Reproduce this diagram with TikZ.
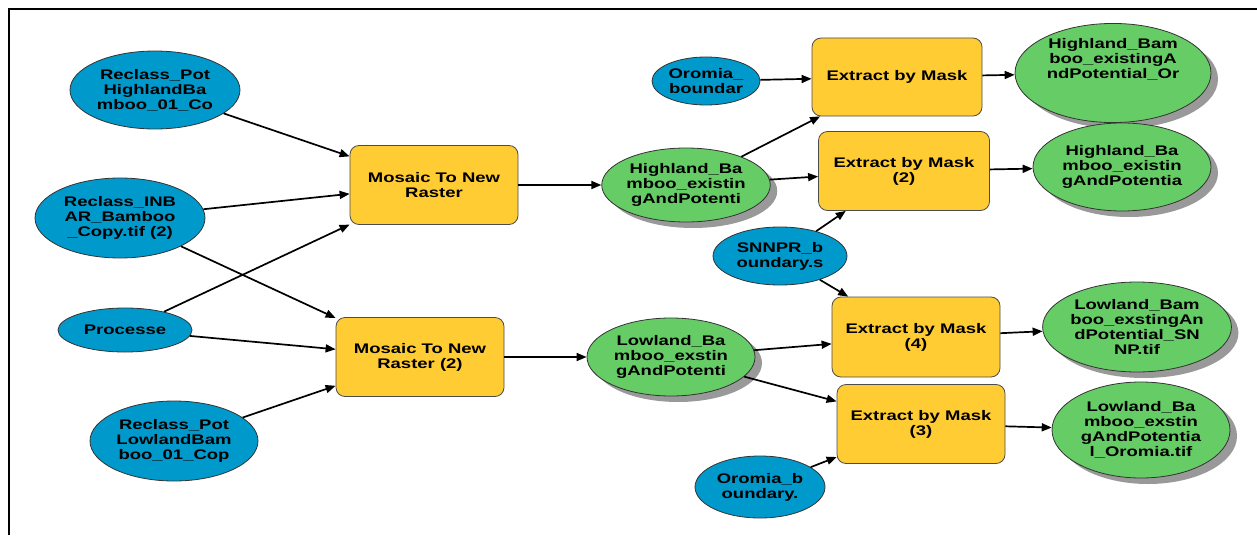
\documentclass[tikz,border=0pt]{standalone}
\usepackage{fontspec}
\newfontfamily\mbfont{Liberation Sans}[FakeStretch=1.33]
\usetikzlibrary{shapes.geometric,arrows.meta,positioning,shadows}
\definecolor{dataBlue}{RGB}{0,153,204}
\definecolor{outGreen}{RGB}{102,204,102}
\definecolor{toolYellow}{RGB}{255,204,51}
\tikzstyle{label}=[font=\mbfont\bfseries\fontsize{13.9}{15}\selectfont,align=center,inner sep=0pt,text=black]
\tikzstyle{dataset}=[label,ellipse,draw=black!80,line width=0.8pt,fill=dataBlue]
\tikzstyle{toolbox}=[label,rectangle,rounded corners=9pt,draw=black!70,line width=0.8pt,fill=toolYellow,minimum width=168pt,minimum height=79pt]
\tikzstyle{derived}=[label,ellipse,draw=black!80,line width=0.8pt,fill=outGreen,drop shadow={shadow xshift=7pt,shadow yshift=-6pt,fill=black!40,opacity=1}]
\tikzstyle{arrow}=[line width=1.7pt,->,>={Triangle[length=10pt,width=8pt]},draw=black]

\begin{document}
\begin{tikzpicture}[x=1pt,y=-1pt,on grid]
    \useasboundingbox (0,0) rectangle (1257,535);
    \draw[line width=2pt] (9,535) -- (9,9) -- (1257,9);

    % inputs and the two mosaics
    \node (recHigh) [dataset, minimum width=170pt, minimum height=78pt] at (155,90) {Reclass\_Pot\\HighlandBa\\mboo\_01\_Co};
    \node (recInb) [dataset, minimum width=170pt, minimum height=80pt] [below left=128pt and 35pt of recHigh] {Reclass\_INB\\AR\_Bamboo\\\_Copy.tif (2)};
    \node (proc) [dataset, minimum width=134pt, minimum height=44pt] [below right=112pt and 5pt of recInb] {Processe};
    \node (recLow) [dataset, minimum width=168pt, minimum height=80pt] [below right=111pt and 49pt of proc] {Reclass\_Pot\\LowlandBam\\boo\_01\_Cop};
    \node (mosA) [toolbox] [below right=95pt and 279pt of recHigh] {Mosaic To New\\Raster};
    \node (mosB) [toolbox] [below left=172pt and 14pt of mosA] {Mosaic To New\\Raster (2)};
    \node (hbRas) [derived, minimum width=168pt, minimum height=74pt] [right=252pt of mosA] {Highland\_Ba\\mboo\_existin\\gAndPotenti};
    \node (lbRas) [derived, minimum width=168pt, minimum height=78pt] [right=251pt of mosB] {Lowland\_Ba\\mboo\_exstin\\gAndPotenti};

    % masks
    \node (extA) [toolbox, minimum width=170pt, minimum height=78pt] at (897,77) {Extract by Mask};
    \node (oroA) [dataset, minimum width=108pt, minimum height=48pt] [below left=4pt and 191pt of extA] {Oromia\_\\boundar};
    \node (extB) [toolbox, minimum width=171pt] [below right=94pt and 7pt of extA] {Extract by Mask\\(2)};
    \node (snnpr) [dataset, minimum width=134pt, minimum height=58pt] [below left=85pt and 124pt of extB] {SNNPR\_b\\oundary.s};
    \node (extD) [toolbox, minimum height=80pt] [below right=81pt and 136pt of snnpr] {Extract by Mask\\(4)};
    \node (extC) [toolbox] [below right=87pt and 5pt of extD] {Extract by Mask\\(3)};
    \node (oroB) [dataset, minimum width=130pt, minimum height=62pt] [below left=63pt and 161pt of extC] {Oromia\_b\\oundary.};

    % outputs
    \node (outA) [derived, minimum width=196pt, minimum height=80pt] [above right=4pt and 216pt of extA] {Highland\_Bam\\boo\_existingA\\ndPotential\_Or\\[15pt]};
    \node (outB) [derived, minimum width=178pt, minimum height=88pt] [above right=4pt and 218pt of extB] {Highland\_Ba\\mboo\_existin\\gAndPotentia};
    \node (outD) [derived, minimum width=188pt, minimum height=90pt] [above right=10pt and 221pt of extD] {Lowland\_Bam\\boo\_exstingAn\\dPotential\_SN\\NP.tif};
    \node (outC) [derived, minimum width=178pt, minimum height=96pt] [below right=6pt and 220pt of extC] {Lowland\_Ba\\mboo\_exstin\\gAndPotentia\\l\_Oromia.tif};

    \path[arrow] (recHigh) edge (mosA);
    \path[arrow] (recInb) edge (mosA);
    \path[arrow] (recInb) edge (mosB);
    \path[arrow] (proc) edge (mosA);
    \path[arrow] (proc) edge (mosB);
    \path[arrow] (recLow) edge (mosB);
    \path[arrow] (mosA) edge (hbRas);
    \path[arrow] (mosB) edge (lbRas);

    \path[arrow] (oroA) edge (extA);
    \path[arrow] (hbRas) edge (extA);
    \path[arrow] (hbRas) edge (extB);
    \path[arrow] (snnpr) edge (extB);
    \path[arrow] (snnpr) edge (extD);
    \path[arrow] (lbRas) edge (extD);
    \path[arrow] (lbRas) edge (extC);
    \path[arrow] (oroB) edge (extC);

    \path[arrow] (extA) edge (outA);
    \path[arrow] (extB) edge (outB);
    \path[arrow] (extD) edge (outD);
    \path[arrow] (extC) edge (outC);
\end{tikzpicture}
\end{document}
